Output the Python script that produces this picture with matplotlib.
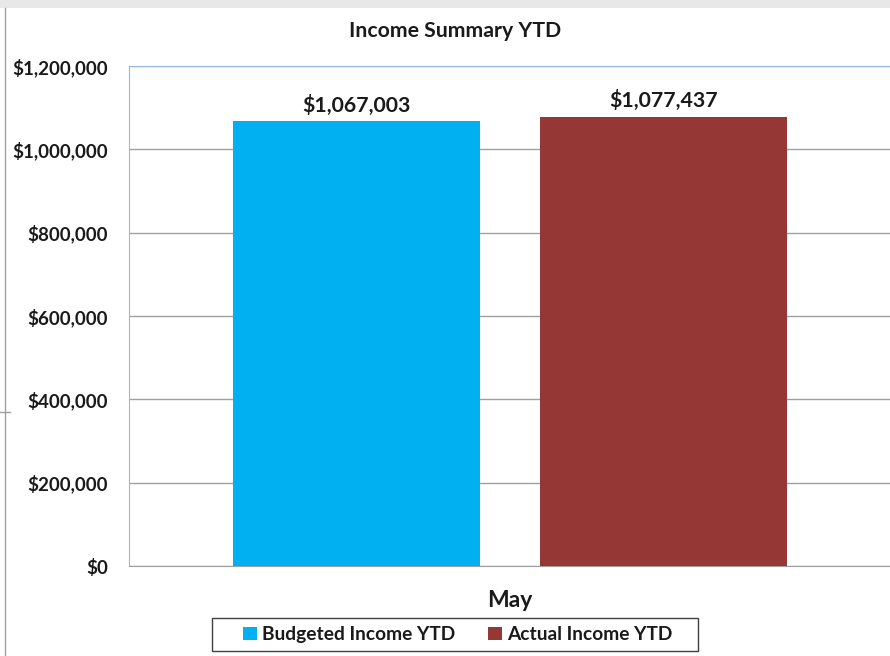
import matplotlib.pyplot as plt
import matplotlib.patches as mpatches
from matplotlib.lines import Line2D
from matplotlib.ticker import FuncFormatter

# ── Data ──────────────────────────────────────────────────────────────────────
category = 'May'
series   = ['Budgeted Income YTD', 'Actual Income YTD']
values   = [1067003, 1077437]
colors   = ['#00B0F0', '#953735']
y_ticks  = [0, 200000, 400000, 600000, 800000, 1000000, 1200000]

plt.rcParams['font.family'] = ['Lato', 'DejaVu Sans']

W, H = 890, 656

# ── Figure / axes ─────────────────────────────────────────────────────────────
fig = plt.figure(figsize=(W / 100, H / 100), dpi=100)
ax = fig.add_axes([129 / W, 1 - 566 / H, 762 / W, 500 / H])

# window chrome around the chart (grey band on top, thin line at left)
fig.patches.append(mpatches.Rectangle((0, 1 - 8 / H), 1, 8 / H,
                                      transform=fig.transFigure,
                                      facecolor='#e8e8e8', edgecolor='none'))
fig.lines.append(Line2D([4.5 / W, 4.5 / W], [0, 1 - 8 / H],
                        transform=fig.transFigure, color='#a0a0a0', lw=1))
fig.lines.append(Line2D([0, 10 / W], [1 - 412 / H, 1 - 412 / H],
                        transform=fig.transFigure, color='#a0a0a0', lw=1))

offsets = [-0.2015, 0.2015]
width   = 0.323
for off, val, col, name in zip(offsets, values, colors, series):
    ax.bar(off, val, width=width, color=col, label=name, zorder=3)
    ax.text(off, val + 14000, f'${val:,.0f}', ha='center', va='bottom',
            fontsize=15.3, fontweight='bold', color='#1a1a1a', zorder=4)

ax.set_xlim(-0.5, 0.5)
ax.set_ylim(0, 1200000)
ax.set_yticks(y_ticks)
ax.yaxis.set_major_formatter(FuncFormatter(lambda v, p: f'${v:,.0f}'))
ax.set_xticks([0])
ax.set_xticklabels([category])
ax.tick_params(axis='y', length=0, pad=15, labelsize=13.5, labelcolor='#1a1a1a')
ax.tick_params(axis='x', length=0, pad=17, labelsize=16.5, labelcolor='#1a1a1a')
for lbl in ax.get_yticklabels() + ax.get_xticklabels():
    lbl.set_fontweight('bold')

ax.yaxis.grid(True, color='#a0a0a0', lw=1, zorder=0)
ax.set_axisbelow(True)
for side in ['top', 'left']:
    ax.spines[side].set_color('#9ab8d8')
ax.spines['bottom'].set_color('#a0a0a0')
ax.spines['right'].set_visible(False)

fig.text(455 / W, 1 - 31 / H, 'Income Summary YTD', ha='center', va='center',
         fontsize=15.3, fontweight='bold', color='#1a1a1a')

# legend with a wider box than matplotlib's own frame
fig.patches.append(mpatches.Rectangle((212 / W, 1 - 651 / H), 486 / W, 33 / H,
                                      transform=fig.transFigure,
                                      facecolor='white', edgecolor='#404040',
                                      lw=1, zorder=1))
leg = fig.legend(loc='center', bbox_to_anchor=(458 / W, 1 - 634.5 / H),
                 ncol=2, frameon=False, handlelength=0.7,
                 handleheight=0.7, handletextpad=0.3, columnspacing=1.7,
                 borderpad=0.3, prop={'weight': 'bold', 'size': 13.8})
leg.set_zorder(2)
for t in leg.get_texts():
    t.set_color('#1a1a1a')

fig.savefig('out.png', dpi=100)
